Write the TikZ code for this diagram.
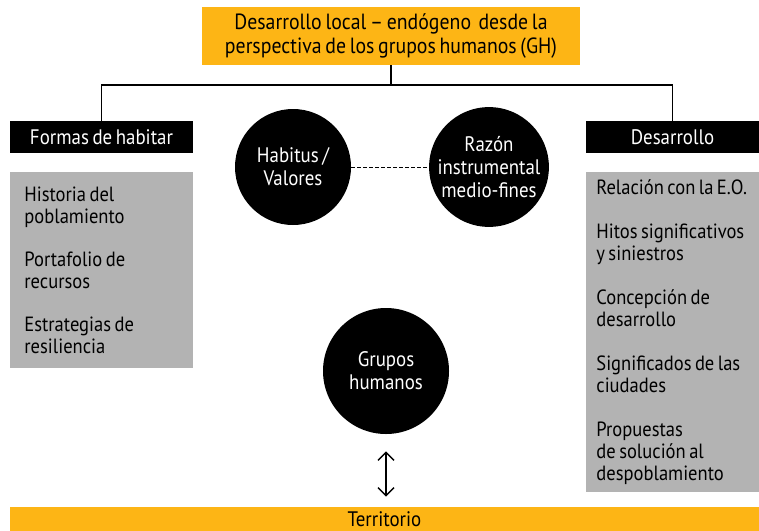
\documentclass[tikz,border=0pt]{standalone}
\usepackage{fontspec}
\setmainfont{PT Sans}[FakeStretch=0.9, WordSpace=0.7]
\usepackage{tikz}
\usetikzlibrary{arrows.meta,positioning}
\definecolor{gold}{HTML}{FDB515}
\definecolor{panelgray}{HTML}{B3B3B3}

\begin{document}
\begin{tikzpicture}[
    x=0.5pt, y=-0.5pt,
    title/.style={rectangle, fill=gold, minimum width=189pt, minimum height=28pt, align=center, font=\fontsize{11}{12}\selectfont},
    header/.style={rectangle, fill=black, text=white, minimum height=16pt, font=\fontsize{10.5}{11}\selectfont},
    panel/.style={rectangle, fill=panelgray, anchor=north west, align=flush left, font=\fontsize{10.3}{11}\selectfont},
    circ/.style={circle, fill=black, text=white, align=center, inner sep=0pt, font=\fontsize{10.5}{11.5}\selectfont},
    link/.style={line width=0.6pt}
]
\useasboundingbox (0,0) rectangle (759,530);

\node[title] (title) at (391,36) {Desarrollo local\,--\,endógeno\ \ desde la\\perspectiva de los grupos humanos (GH)};

% headers
\node[header, minimum width=91.5pt] (formas) at (101.5,137) {Formas de habitar};
\node[header, minimum width=86.5pt] (desarrollo) at (672.5,137) {Desarrollo};

% panels
\node[panel, minimum width=91.5pt, minimum height=98pt, text width=77.5pt, inner xsep=7pt] (izq) at (10,172)
  {Historia del\\poblamiento\\[10.5pt]Portafolio de\\recursos\\[10.5pt]Estrategias de\\resiliencia};
\node[panel, minimum width=86.5pt, minimum height=160pt, text width=81.5pt, inner xsep=5pt] (der) at (586,172)
  {Relación con la E.O.\\[11pt]Hitos significativos\\y siniestros\\[11pt]Concepción de\\desarrollo\\[11pt]Significados de las\\ciudades\\[11pt]Propuestas\\de solución al\\despoblamiento};

% circles
\node[circ, minimum size=58pt] (habitus) at (293,167) {Habitus /\\Valores};
\node[circ, minimum size=58pt] (razon) at (489,167) {Razón\\instrumental\\medio-fines};
\node[circ, minimum size=63pt] (grupos) at (386,371) {Grupos\\humanos};

% territory bar
\node[rectangle, fill=gold, minimum width=374.5pt, minimum height=12pt, inner ysep=1pt, font=\fontsize{10.5}{11}\selectfont] (territorio) at (384.5,519) {Territorio};

% tree lines
\coordinate (hub) at (391,85);
\draw[link] (title.south) -- (hub);
\draw[link] (hub) -| (formas.north);
\draw[link] (hub) -| (desarrollo.north);

\draw[dashed, dash pattern=on 2pt off 1pt, line width=0.5pt] (habitus) -- (razon);
\draw[{Straight Barb[length=4pt,width=8pt]}-{Straight Barb[length=4pt,width=8pt]}, line width=0.7pt, shorten <=8.5pt, shorten >=5pt]
  (grupos.south) -- (grupos.south |- territorio.north);

\end{tikzpicture}
\end{document}
